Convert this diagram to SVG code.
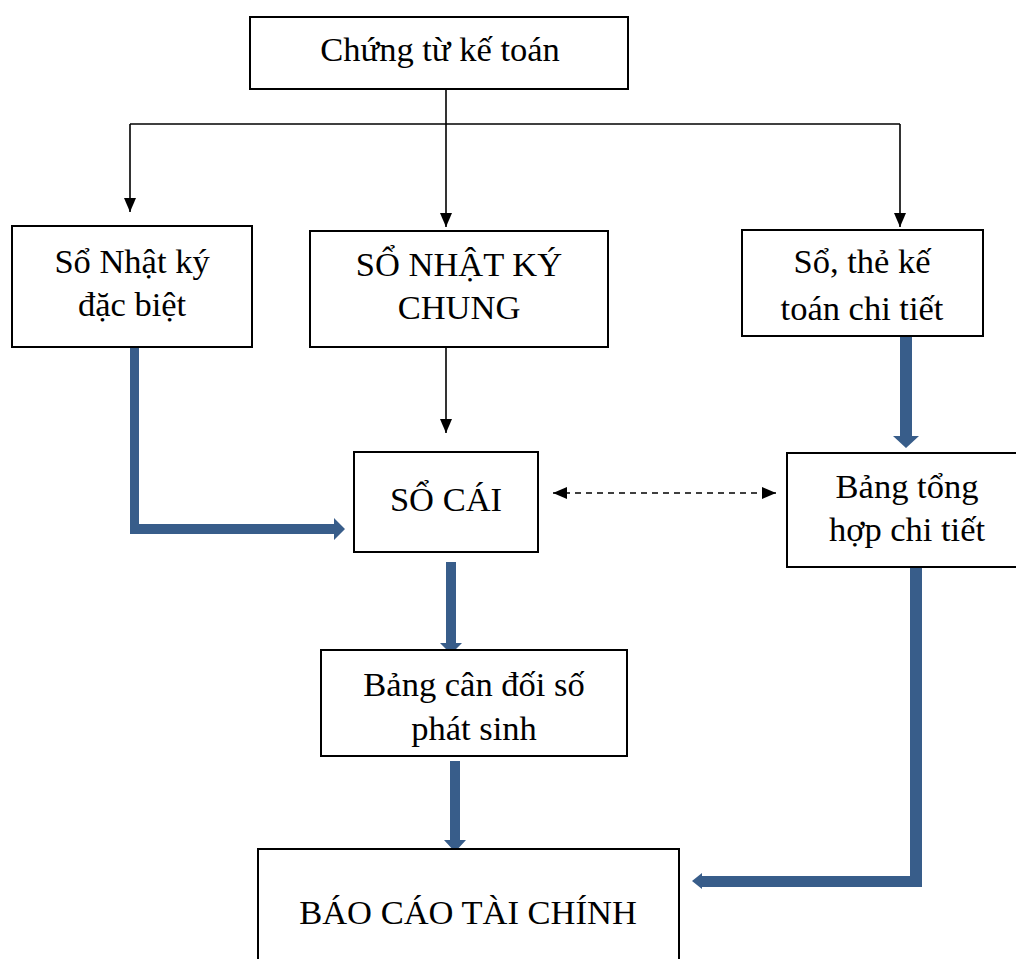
<svg xmlns="http://www.w3.org/2000/svg" width="1016" height="959" viewBox="0 0 1016 959">
  <style>
    .box { fill: #ffffff; stroke: #000000; stroke-width: 2; }
    .lbl { font-family: "Liberation Serif", "Times New Roman", serif; font-size: 34.5px; fill: #000000; text-anchor: middle; }
    .thin { stroke: #000000; stroke-width: 1.6; fill: none; }
    .dash { stroke: #000000; stroke-width: 1.6; fill: none; stroke-dasharray: 6 5; }
    .flow { fill: #385D8A; }
  </style>
  <defs>
    <marker id="tri" markerUnits="userSpaceOnUse" markerWidth="14" markerHeight="12" refX="14" refY="6" orient="auto">
      <path d="M0,0 L14,6 L0,12 z" fill="#000000"/>
    </marker>
    <marker id="triStart" markerUnits="userSpaceOnUse" markerWidth="14" markerHeight="12" refX="0" refY="6" orient="auto">
      <path d="M14,0 L0,6 L14,12 z" fill="#000000"/>
    </marker>
  </defs>

  <rect width="1016" height="959" fill="#ffffff"/>

  <!-- connectors -->
  <g id="connectors">
    <!-- distribution from source documents -->
    <line class="thin" x1="446" y1="89" x2="446" y2="227" marker-end="url(#tri)"/>
    <line class="thin" x1="130" y1="124" x2="900" y2="124"/>
    <line class="thin" x1="130" y1="124" x2="130" y2="212" marker-end="url(#tri)"/>
    <line class="thin" x1="900" y1="124" x2="900" y2="227" marker-end="url(#tri)"/>
    <!-- general journal to ledger -->
    <line class="thin" x1="446" y1="347" x2="446" y2="433" marker-end="url(#tri)"/>
    <!-- ledger <-> detail summary -->
    <line class="dash" x1="553" y1="493" x2="776" y2="493" marker-start="url(#triStart)" marker-end="url(#tri)"/>

    <!-- special journal to ledger -->
    <path class="flow" d="M130,345 L139,345 L139,524 L334,524 L334,518 L345,529 L334,540 L334,534 L130,534 z"/>
    <!-- detail books to detail summary -->
    <path class="flow" d="M900,334 L912,334 L912,436 L919,436 L906,448 L893,436 L900,436 z"/>
    <!-- ledger to trial balance -->
    <path class="flow" d="M446,562 L456,562 L456,643 L462,643 L451,654 L440,643 L446,643 z"/>
    <!-- trial balance to financial statements -->
    <path class="flow" d="M450,761 L460,761 L460,840 L466,840 L455,852 L444,840 L450,840 z"/>
    <!-- detail summary to financial statements -->
    <path class="flow" d="M910,565 L922,565 L922,887 L702,887 L702,889 L692,881 L702,873 L702,876 L910,876 z"/>
  </g>

  <g id="chung-tu">
    <rect class="box" x="250" y="17" width="378" height="72"/>
    <text class="lbl" x="440" y="61">Chứng từ kế toán</text>
  </g>

  <g id="nhat-ky-dac-biet">
    <rect class="box" x="12" y="226" width="240" height="121"/>
    <text class="lbl" x="132" y="273">Sổ Nhật ký</text>
    <text class="lbl" x="132" y="316">đặc biệt</text>
  </g>

  <g id="nhat-ky-chung">
    <rect class="box" x="310" y="231" width="298" height="116"/>
    <text class="lbl" x="459" y="276">SỔ NHẬT KÝ</text>
    <text class="lbl" x="459" y="319">CHUNG</text>
  </g>

  <g id="so-the-chi-tiet">
    <rect class="box" x="742" y="230" width="241" height="106"/>
    <text class="lbl" x="862" y="273">Sổ, thẻ kế</text>
    <text class="lbl" x="862" y="320">toán chi tiết</text>
  </g>

  <g id="so-cai">
    <rect class="box" x="354" y="452" width="184" height="100"/>
    <text class="lbl" x="446" y="511">SỔ CÁI</text>
  </g>

  <g id="tong-hop-chi-tiet">
    <rect class="box" x="787" y="453" width="240" height="114"/>
    <text class="lbl" x="907" y="498">Bảng tổng</text>
    <text class="lbl" x="907" y="541">hợp chi tiết</text>
  </g>

  <g id="can-doi-so-phat-sinh">
    <rect class="box" x="321" y="650" width="306" height="106"/>
    <text class="lbl" x="474" y="696">Bảng cân đối số</text>
    <text class="lbl" x="474" y="740">phát sinh</text>
  </g>

  <g id="bao-cao-tai-chinh">
    <rect class="box" x="258" y="849" width="421" height="130"/>
    <text class="lbl" x="468" y="924">BÁO CÁO TÀI CHÍNH</text>
  </g>
</svg>
